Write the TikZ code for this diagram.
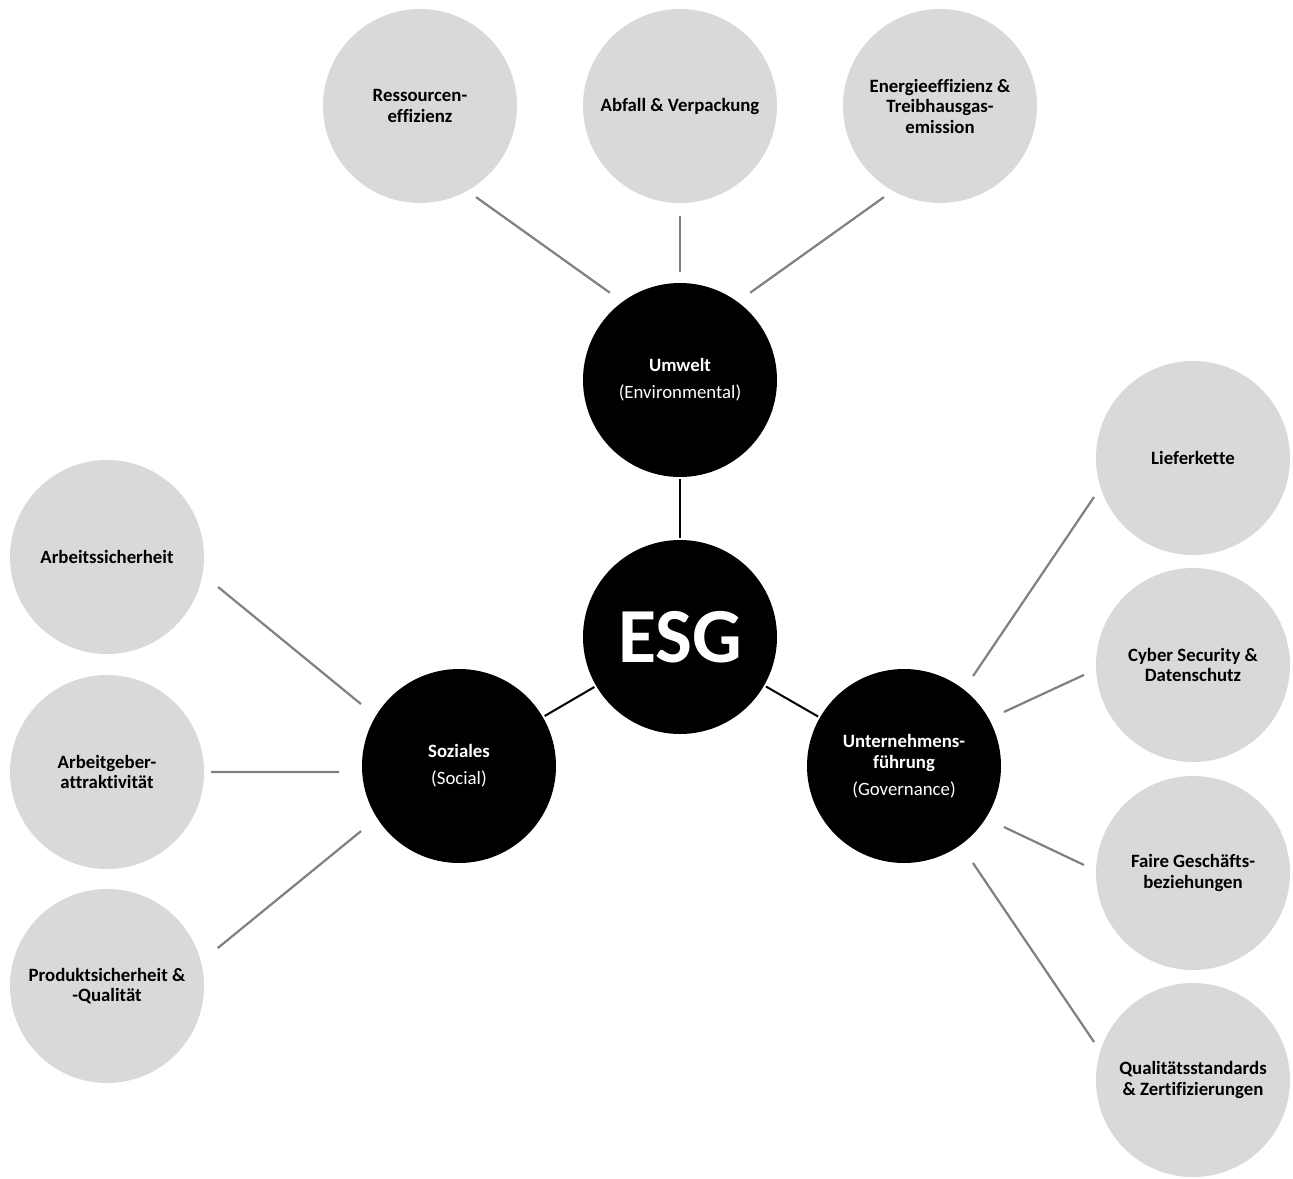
\documentclass[tikz,border=0pt]{standalone}
\usepackage{fontspec}
\setmainfont{Carlito}[Ligatures={NoCommon}]
\usetikzlibrary{calc}
\tikzset{
  base/.style={circle, minimum size=194pt, inner sep=0pt, align=center,
    font=\fontsize{18.8pt}{20.5pt}\selectfont},
  topic/.style={base, fill=black!15, text=black, font=\fontsize{18.8pt}{20.5pt}\selectfont\bfseries},
  pillar/.style={base, fill=black, text=white},
  core/.style={base, fill=black, text=white, font=\fontsize{78pt}{80pt}\selectfont\bfseries},
  gline/.style={draw=black!50, line width=2.2pt},
  bline/.style={draw=black, line width=2pt, shorten <=2pt, shorten >=2pt}
}
\begin{document}
\begin{tikzpicture}[x=1pt,y=1pt]
\useasboundingbox[fill=white] (0,0) rectangle (1293,-1178);

% pillars and core
\node[core]   (esg) at (680,-637) {ESG};
\node[pillar] (umw) at (680,-380) {\textbf{Umwelt}\\[6.5pt](Environmental)};
\node[pillar] (soz) at (459,-766) {\textbf{Soziales}\\[6.5pt](Social)};
\node[pillar] (gov) at (904,-766) {\textbf{Unternehmens-}\\\textbf{führung}\\[6.5pt](Governance)};

% environmental topics
\node[topic] (res) at (420,-106) {Ressourcen-\\effizienz};
\node[topic] (abf) at (680,-106) {Abfall \& Verpackung};
\node[topic] (ene) at (940,-106) {Energieeffizienz \&\\Treibhausgas-\\emission};

% social topics
\node[topic] (as)  at (107,-557) {Arbeitssicherheit};
\node[topic] (ag)  at (107,-772) {Arbeitgeber-\\attraktivität};
\node[topic] (ps)  at (107,-986) {Produktsicherheit \&\\-Qualität};

% governance topics
\node[topic] (lk)  at (1193,-458) {Lieferkette};
\node[topic] (cy)  at (1193,-665) {Cyber Security \&\\Datenschutz};
\node[topic] (fg)  at (1193,-873) {Faire Geschäfts-\\beziehungen};
\node[topic] (qs)  at (1193,-1080) {Qualitätsstandards\\\& Zertifizierungen};

% black connectors
\draw[bline] (umw) -- (esg);
\draw[bline] (esg) -- (soz);
\draw[bline] (esg) -- (gov);

% gray connectors: environmental
\draw[gline] ($(res)+(-58.4:107pt)$) -- ($(umw)+(128.8:112pt)$);
\draw[gline] ($(abf)+(-90:110pt)$)   -- ($(umw)+(90:108pt)$);
\draw[gline] ($(ene)+(-121.6:107pt)$) -- ($(umw)+(51.2:112pt)$);

% gray connectors: social
\draw[gline] ($(as)+(-15.1:115pt)$) -- ($(soz)+(147.7:116pt)$);
\draw[gline] ($(ag)+(0:104pt)$)     -- ($(soz)+(-177.1:120pt)$);
\draw[gline] ($(ps)+(18.9:117pt)$)  -- ($(soz)+(-146.4:117.6pt)$);

% gray connectors: governance
\draw[gline] ($(lk)+(-158.5:106.4pt)$) -- ($(gov)+(52.5:113.4pt)$);
\draw[gline] ($(cy)+(-174.8:109.5pt)$) -- ($(gov)+(28.4:113.6pt)$);
\draw[gline] ($(fg)+(175.8:109.3pt)$)  -- ($(gov)+(-31.4:117.1pt)$);
\draw[gline] ($(qs)+(159:106pt)$)      -- ($(gov)+(-54.6:119pt)$);
\end{tikzpicture}
\end{document}
